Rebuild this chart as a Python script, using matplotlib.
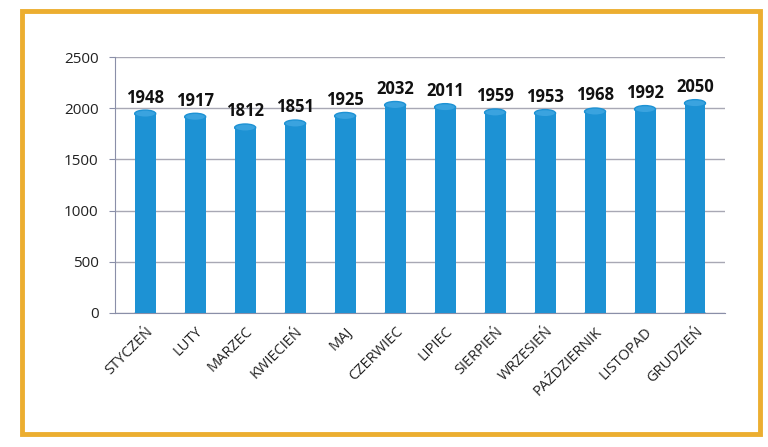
import matplotlib.pyplot as plt
from matplotlib.patches import Rectangle, Ellipse
import numpy as np

months = ['STYCZEŃ', 'LUTY', 'MARZEC', 'KWIECIEŃ', 'MAJ', 'CZERWIEC', 'LIPIEC',
          'SIERPIEŃ', 'WRZESIEŃ', 'PAŹDZIERNIK', 'LISTOPAD', 'GRUDZIEŃ']
values = [1948, 1917, 1812, 1851, 1925, 2032, 2011, 1959, 1953, 1968, 1992, 2050]
y_ticks = [0, 500, 1000, 1500, 2000, 2500]

plt.rcParams['font.family'] = ['Open Sans', 'DejaVu Sans']

fig = plt.figure(figsize=(7.68, 4.47), dpi=100)
ax = fig.add_axes([0.15, 0.30, 0.794, 0.572])

x = np.arange(len(months))
bar_color = '#1d92d4'
bw = 0.42
ax.bar(x, values, width=bw, color=bar_color, zorder=3)

# cylinder caps
cap_h = 70
for xi, v in zip(x, values):
    ax.add_patch(Ellipse((xi, v), bw, cap_h, facecolor='#3aa3df', edgecolor=bar_color, lw=1, zorder=4))
    ax.add_patch(Ellipse((xi, 0), bw, cap_h, facecolor=bar_color, edgecolor='none', zorder=2.9))
    ax.text(xi, v + 70, str(v), ha='center', va='bottom', fontsize=12,
            fontweight='bold', color='#111111', zorder=5)

ax.set_xlim(-0.6, len(months) - 0.4)
ax.set_ylim(0, 2500)
ax.set_yticks(y_ticks)
ax.set_yticklabels([str(t) for t in y_ticks], fontsize=11, color='#222222')
ax.set_xticks(x)
ax.set_xticklabels(months, rotation=45, ha='right', rotation_mode='anchor',
                   fontsize=10.5, color='#222222')
ax.tick_params(axis='x', length=0, pad=8)
ax.tick_params(axis='y', length=4, color='#8a8fa8', pad=8)

ax.grid(axis='y', color='#a8a8b4', linewidth=1, zorder=0)
for s in ['top', 'right']:
    ax.spines[s].set_visible(False)
ax.spines['left'].set_color('#8a8fa8')
ax.spines['bottom'].set_color('#8a8fa8')

# orange frame
fig.patches.append(Rectangle((0.028, 0.03), 0.962, 0.945, transform=fig.transFigure,
                             fill=False, edgecolor='#ecae30', linewidth=3.5))

fig.savefig('out.png', dpi=100)
